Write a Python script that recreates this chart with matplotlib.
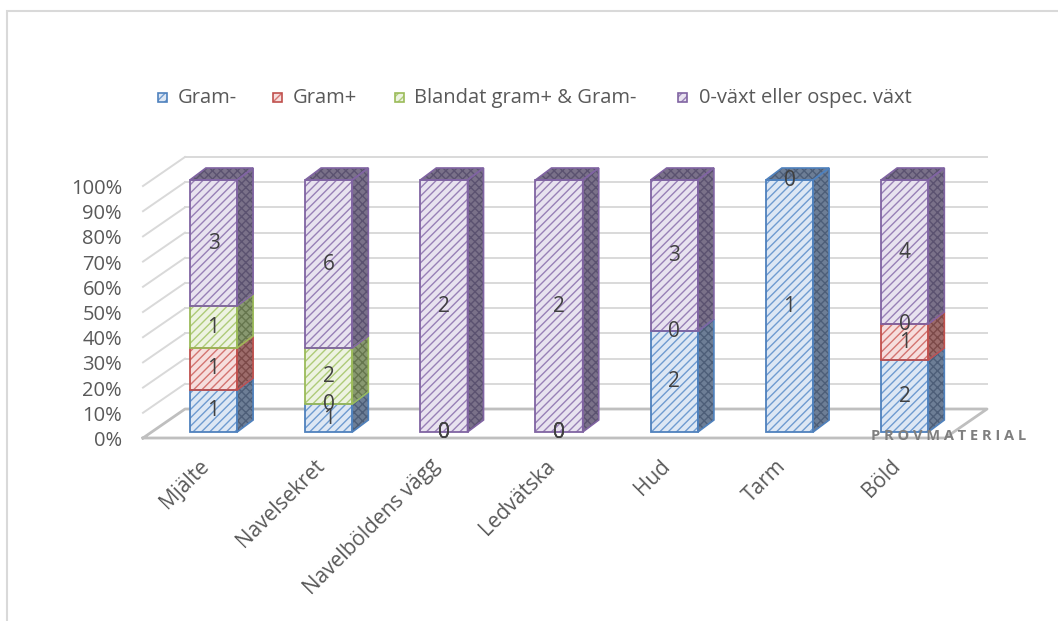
import matplotlib
matplotlib.use("Agg")
import matplotlib.pyplot as plt
from matplotlib.patches import Polygon, Rectangle
import numpy as np

plt.rcParams['font.family'] = ['Open Sans', 'DejaVu Sans']
plt.rcParams['hatch.linewidth'] = 1.0

categories = ["Mjälte", "Navelsekret", "Navelböldens vägg", "Ledvätska", "Hud", "Tarm", "Böld"]
series_names = ["Gram-", "Gram+", "Blandat gram+ & Gram-", "0-växt eller ospec. växt"]
gram_neg = [1, 1, 0, 0, 2, 1, 2]
gram_pos = [1, 0, 0, 0, 0, np.nan, 1]
blandat = [1, 2, 0, 0, np.nan, np.nan, 0]
noll_vaxt = [3, 6, 2, 2, 3, 0, 4]
y_ticks = [0, 10, 20, 30, 40, 50, 60, 70, 80, 90, 100]
x_axis_title = "PROVMATERIAL"

series = [gram_neg, gram_pos, blandat, noll_vaxt]
edge_cols = ["#4F81BD", "#C0504D", "#9BBB59", "#8064A2"]
fill_cols = ["#dde7f4", "#f6dedd", "#edf3e1", "#e8e2ef"]
hatch_cols = ["#6f9bd0", "#d47471", "#aecb78", "#9880b6"]
side_cols = ["#6d7e96", "#9d6c6b", "#889870", "#7a7189"]
side_hatch = ["#4d5e78", "#7c4a49", "#66764e", "#5b5270"]

W, H = 1058, 621
fig = plt.figure(figsize=(W / 100, H / 100), dpi=100)
ax = fig.add_axes([0, 0, 1, 1])
ax.axis('off')

X0, XS = 213.5, 115.2   # pixel of first bar centre, px per category
Y0, YS = 432.0, 252.0   # pixel (from top) of 0 on bar front, px per 100%
ax.set_xlim(-X0 / XS, (W - X0) / XS)
ax.set_ylim((Y0 - H) / YS, Y0 / YS)

def px(x):
    return (x - X0) / XS

def py(y):
    return (Y0 - y) / YS

# outer chart border
ax.add_patch(Rectangle((px(7), py(H + 30)), px(W + 30) - px(7), py(11) - py(H + 30),
                       fill=False, edgecolor="#D9D9D9", lw=1.5, zorder=0))

grid_c = "#D9D9D9"
floor_c = "#BFBFBF"
front_dy = (Y0 - 438) / YS      # front plane offset
back_dy = (Y0 - 409) / YS       # back wall offset
xl_front, xl_back, xr_back, xr_front = px(143), px(185), px(987), px(945)

# back wall gridlines and left-side diagonals
for t in y_ticks[1:]:
    v = t / 100
    ax.plot([xl_back, xr_back], [v + back_dy, v + back_dy], color=grid_c, lw=1.4, zorder=1)
    ax.plot([xl_front, xl_back], [v + front_dy, v + back_dy], color=grid_c, lw=1.4, zorder=1)
# floor
ax.plot([xl_front, xr_front, xr_back, xl_back, xl_front],
        [front_dy, front_dy, back_dy, back_dy, front_dy], color=floor_c, lw=2.0, zorder=1)

# y tick labels
for t in y_ticks:
    ax.text(px(122), t / 100 + front_dy - 3 / YS, f"{t}%", ha='right', va='center',
            fontsize=14.5, color="#595959")

bw = 0.41
ddx, ddy = 16 / XS, 12 / YS
totals = np.nansum(np.array(series, dtype=float), axis=0)

for i in range(len(categories)):
    bottom = 0.0
    segs = []
    for s, vals in enumerate(series):
        v = vals[i]
        if np.isnan(v):
            continue
        h = v / totals[i]
        segs.append((s, bottom, h, v))
        bottom += h
    for s, b, h, v in segs:
        if h <= 0:
            continue
        ax.bar(i, h, bw, bottom=b, color=fill_cols[s], edgecolor=hatch_cols[s],
               hatch='////', lw=0, zorder=3)
        ax.bar(i, h, bw, bottom=b, fill=False, edgecolor=edge_cols[s], lw=1.3, zorder=4)
        xr = i + bw / 2
        side = [(xr, b), (xr + ddx, b + ddy), (xr + ddx, b + h + ddy), (xr, b + h)]
        ax.add_patch(Polygon(side, closed=True, facecolor=side_cols[s],
                             edgecolor=side_hatch[s], hatch='xxxx', lw=0, zorder=3))
        ax.add_patch(Polygon(side, closed=True, fill=False, edgecolor=edge_cols[s],
                             lw=1.2, zorder=4))
    # top face
    top_s = [sg for sg in segs if sg[2] > 0][-1][0]
    xl, xr = i - bw / 2, i + bw / 2
    top = [(xl, 1), (xl + ddx, 1 + ddy), (xr + ddx, 1 + ddy), (xr, 1)]
    ax.add_patch(Polygon(top, closed=True, facecolor=side_cols[top_s],
                         edgecolor=side_hatch[top_s], hatch='xxxx', lw=0, zorder=3))
    ax.add_patch(Polygon(top, closed=True, fill=False, edgecolor=edge_cols[top_s],
                         lw=1.2, zorder=4))
    for s, b, h, v in segs:
        ax.text(i, b + h / 2, f"{int(v)}", ha='center', va='center', fontsize=15,
                color="#404040", zorder=6)
    # category labels
    ax.text(i - 7 / XS, py(463), categories[i], rotation=45, rotation_mode='anchor',
            ha='right', va='center', fontsize=15, color="#595959")

# axis title
ax.text(px(1026), py(436), " ".join(x_axis_title), ha='right', va='center',
        fontsize=10.5, fontweight='bold', color="#7F7F7F", zorder=7)

# legend
leg_box_x = [158, 273, 395, 678]
leg_txt_x = [178, 293, 414, 699]
for s, name in enumerate(series_names):
    ax.bar(px(leg_box_x[s] + 4.5), 9 / YS, 9 / XS, bottom=py(102), color=fill_cols[s],
           edgecolor=hatch_cols[s], hatch='////', lw=0)
    ax.bar(px(leg_box_x[s] + 4.5), 9 / YS, 9 / XS, bottom=py(102), fill=False,
           edgecolor=edge_cols[s], lw=1.2)
    ax.text(px(leg_txt_x[s]), py(98), name, ha='left', va='center', fontsize=14.5,
            color="#595959")

fig.savefig("out.png", dpi=100)
